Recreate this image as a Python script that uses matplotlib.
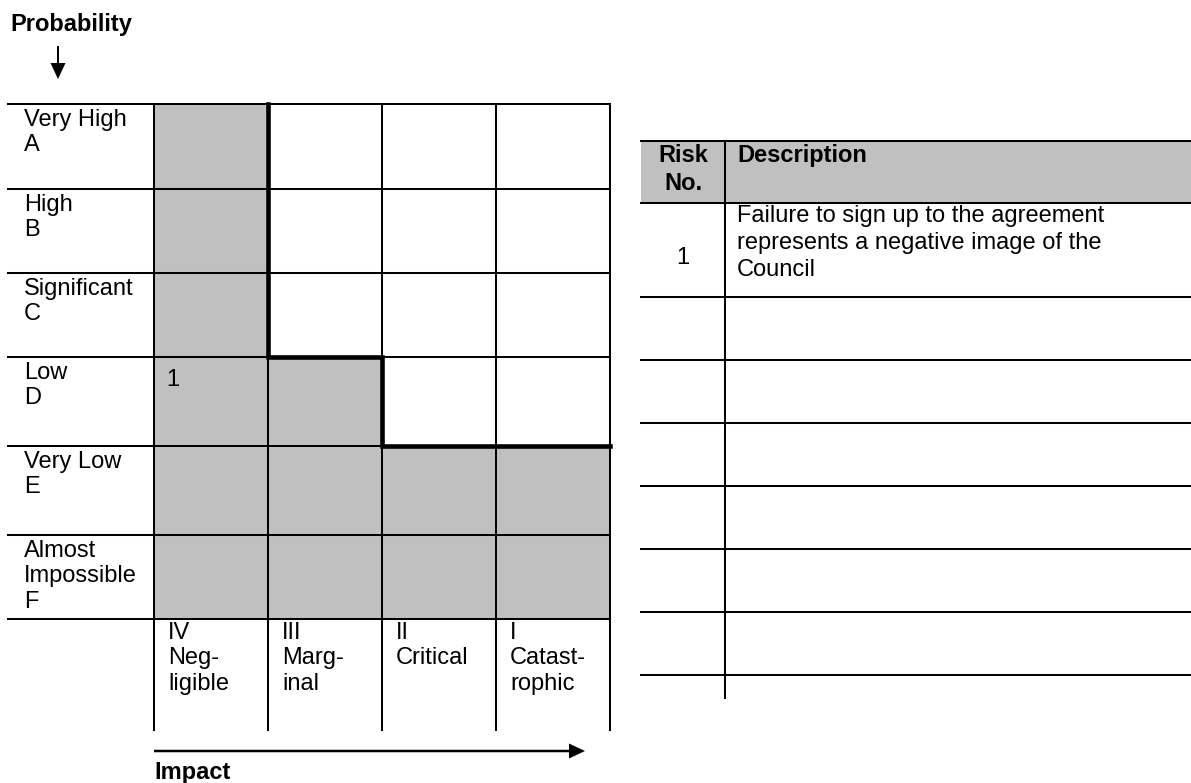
import matplotlib
matplotlib.use("Agg")
import matplotlib.pyplot as plt
from matplotlib.patches import Rectangle, FancyArrow

plt.rcParams['font.family'] = ['Liberation Sans', 'DejaVu Sans']

# ---- data ----
prob_labels = ["Very High\nA", "High\nB", "Significant\nC", "Low\nD",
               "Very Low\nE", "Almost\nImpossible\nF"]
impact_labels = ["IV\nNeg-\nligible", "III\nMarg-\ninal", "II\nCritical",
                 "I\nCatast-\nrophic"]
# shaded (tolerable) cells, rows A..F, columns IV..I
grey = [[1, 0, 0, 0],
        [1, 0, 0, 0],
        [1, 0, 0, 0],
        [1, 1, 0, 0],
        [1, 1, 1, 1],
        [1, 1, 1, 1]]
risk_ids = ["1"]
risk_rows = [3]
risk_cols = [0]
risk_desc = ["Failure to sign up to the agreement\nrepresents a negative image of the\nCouncil"]
n_blank = 6

# ---- layout (pixels) ----
W, H = 1191, 783
lab_x0 = 8
col_edges = [154, 268, 382, 496, 610]
row_edges = [104, 189, 273, 357, 446, 535, 619]
bottom_y = 730
tab_x0, tab_div, tab_x1 = 641, 725, 1191
tab_rows = [141, 203, 297]
tab_step = 63
tab_end = 698

GREY = "#c0c0c0"
thin = 1.45
thick = 3.3
fs = 17

fig = plt.figure(figsize=(W / 100, H / 100), dpi=100)
ax = fig.add_axes([0, 0, 1, 1])
ax.set_xlim(0, W)
ax.set_ylim(H, 0)
ax.axis("off")

# shaded cells
for r, row in enumerate(grey):
    for c, g in enumerate(row):
        if g:
            ax.add_patch(Rectangle((col_edges[c], row_edges[r]),
                                   col_edges[c + 1] - col_edges[c],
                                   row_edges[r + 1] - row_edges[r],
                                   facecolor=GREY, edgecolor="none", zorder=1))

# grid lines
for y in row_edges:
    ax.plot([lab_x0, col_edges[-1]], [y, y], color="black", lw=thin, zorder=2)
for x in col_edges:
    ax.plot([x, x], [row_edges[0], bottom_y], color="black", lw=thin, zorder=2)

# tolerance line from the shading
pts = []
for r, row in enumerate(grey):
    n = sum(row)
    x = col_edges[n]
    pts.append((x, row_edges[r]))
    if n >= len(col_edges) - 1:
        break
    pts.append((x, row_edges[r + 1]))
ax.plot([p[0] for p in pts], [p[1] for p in pts], color="black", lw=thick,
        solid_joinstyle="miter", solid_capstyle="projecting", zorder=3)

# labels
for r, lab in enumerate(prob_labels):
    ax.text(24, row_edges[r] + 5, lab, fontsize=fs, va="top", ha="left")
for c, lab in enumerate(impact_labels):
    ax.text(col_edges[c] + 14, row_edges[-1] + 3, lab, fontsize=fs, va="top", ha="left")
for rid, r, c in zip(risk_ids, risk_rows, risk_cols):
    ax.text(col_edges[c] + 12, row_edges[r] + 12, rid, fontsize=fs, va="top", ha="left")

# axis titles and arrows
ax.text(10, 25, "Probability", fontsize=fs, fontweight="bold", va="center", ha="left")
ax.add_patch(FancyArrow(58, 46, 0, 33, width=2, head_width=15, head_length=16,
                        length_includes_head=True, color="black", lw=0))
ax.add_patch(FancyArrow(col_edges[0], 751, 431, 0, width=2.5, head_width=15, head_length=16,
                        length_includes_head=True, color="black", lw=0))
ax.text(col_edges[0], 779, "Impact", fontsize=fs, fontweight="bold", va="baseline", ha="left")

# risk table
ax.add_patch(Rectangle((tab_x0, tab_rows[0]), tab_x1 - tab_x0, tab_rows[1] - tab_rows[0],
                       facecolor=GREY, edgecolor="none", zorder=1))
hlines = list(tab_rows) + [tab_rows[-1] + tab_step * (i + 1) for i in range(n_blank)]
for y in hlines:
    ax.plot([tab_x0, tab_x1], [y, y], color="black", lw=thin, zorder=2)
ax.plot([tab_div, tab_div], [tab_rows[0], tab_end], color="black", lw=thin, zorder=2)

ax.text((tab_x0 + tab_div) / 2, tab_rows[0] + 3, "Risk\nNo.", fontsize=fs,
        fontweight="bold", va="top", ha="center", multialignment="center",
        linespacing=1.3)
ax.text(tab_div + 12, tab_rows[0] + 3, "Description", fontsize=fs,
        fontweight="bold", va="top", ha="left")
for i, (rid, desc) in enumerate(zip(risk_ids, risk_desc)):
    y0 = tab_rows[1 + i]
    ax.text((tab_x0 + tab_div) / 2, y0 + 55, rid, fontsize=fs, va="center", ha="center")
    ax.text(tab_div + 12, y0 + 2, desc, fontsize=fs, va="top", ha="left",
            linespacing=1.28)

fig.savefig("out.png", dpi=100)
